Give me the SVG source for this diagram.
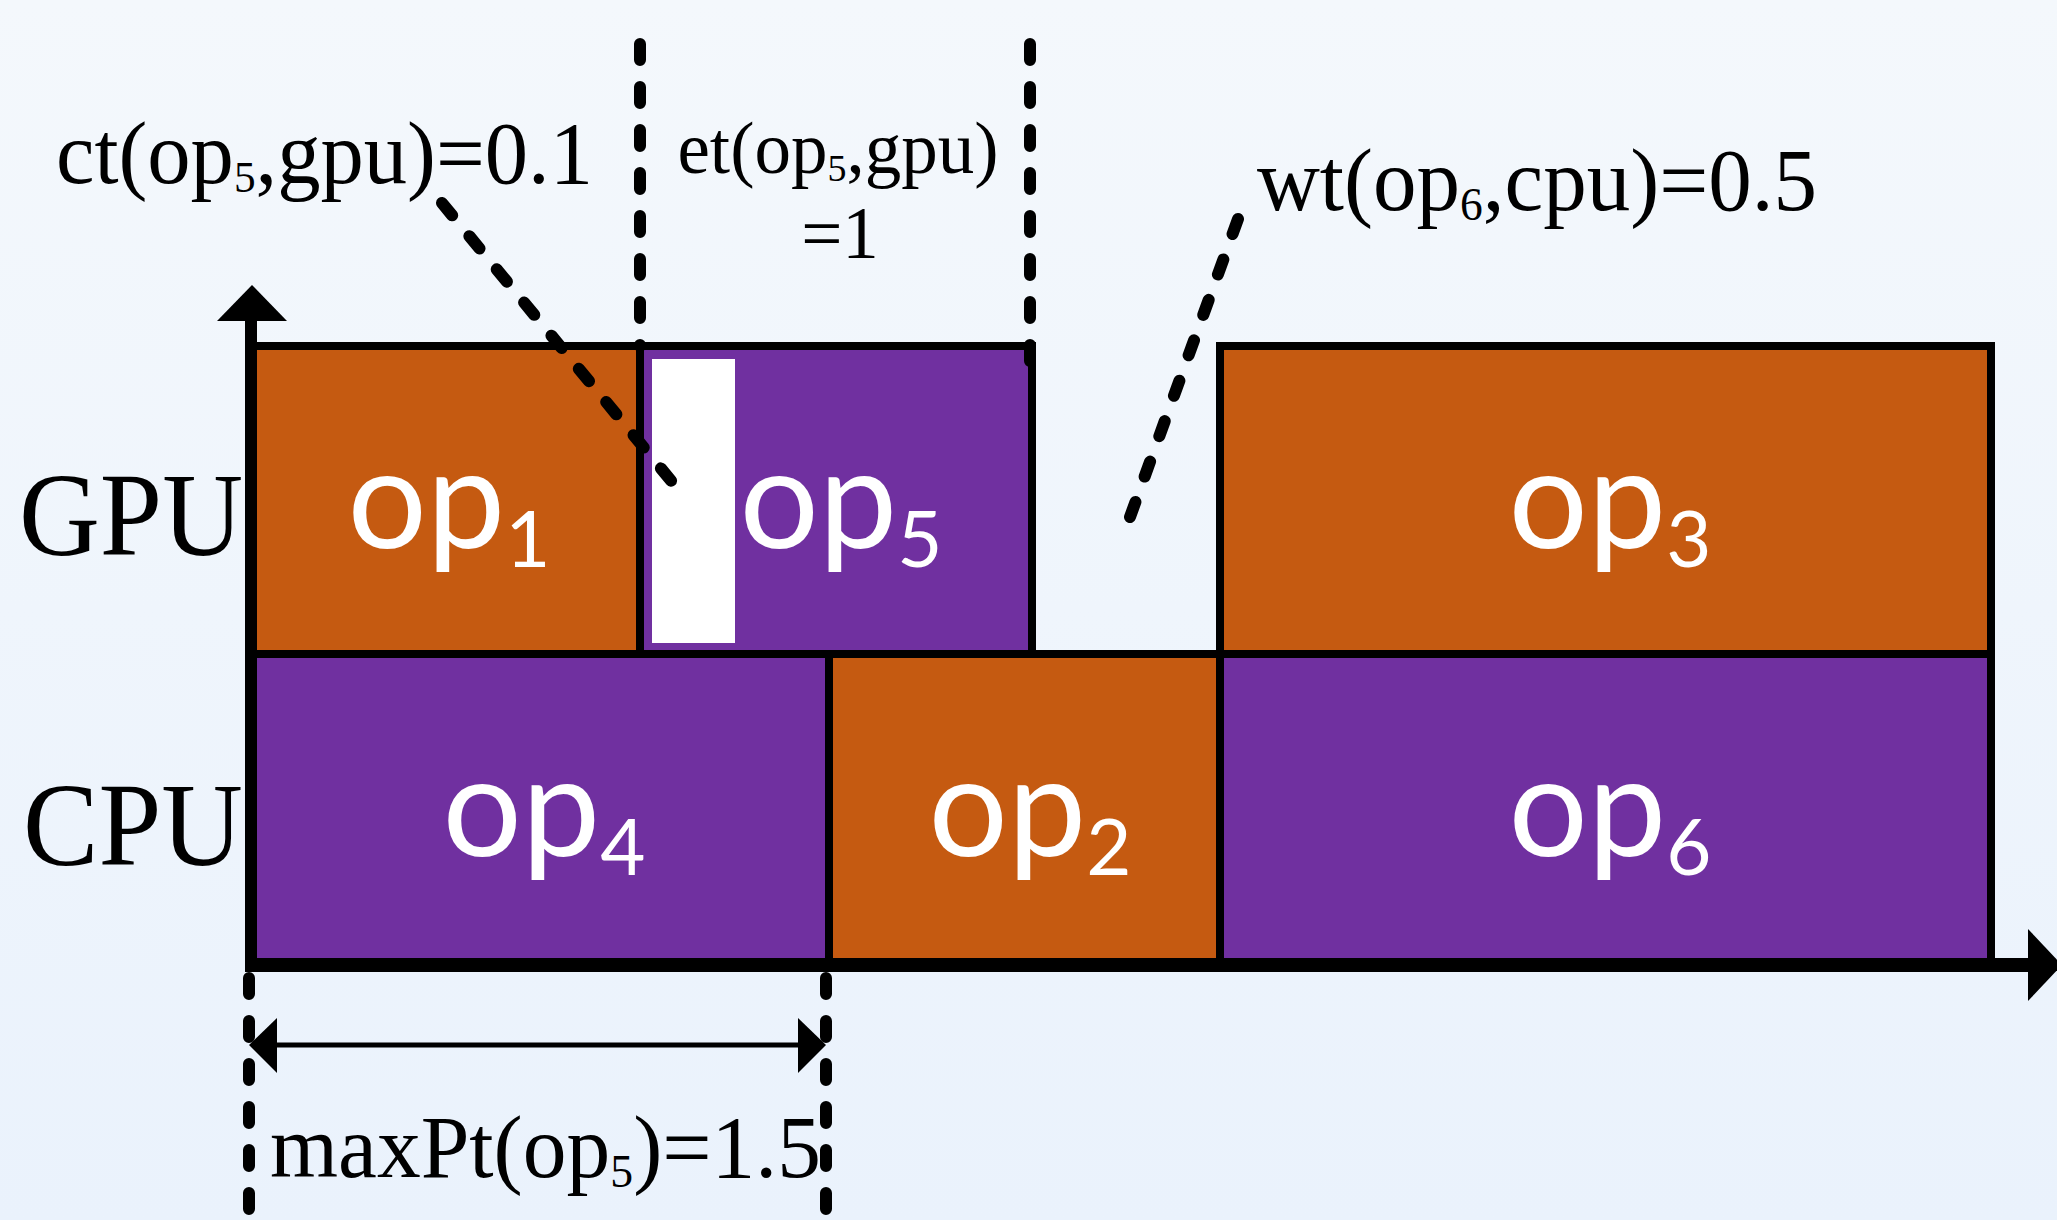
<svg xmlns="http://www.w3.org/2000/svg" width="2057" height="1220" viewBox="0 0 2057 1220">
  <defs>
    <linearGradient id="bg" x1="0" y1="0" x2="0" y2="1">
      <stop offset="0" stop-color="#F4F8FC"/>
      <stop offset="1" stop-color="#EAF2FC"/>
    </linearGradient>
    <style>
      .box { stroke: #000; stroke-width: 8; }
      .orange { fill: #C55A11; }
      .purple { fill: #7030A0; }
      .op { font-family: Lato, "Open Sans", "Liberation Sans", sans-serif; font-size: 140px; fill: #fff; text-anchor: middle; }
      .sub { font-size: 78px; }
      .lbl { font-family: "Liberation Serif", "Times New Roman", serif; fill: #000; }
      .dash { fill: none; stroke: #000; stroke-width: 12; stroke-linecap: round; stroke-dasharray: 16 27; }
      .axis { fill: none; stroke: #000; }
    </style>
  </defs>
  <rect x="0" y="0" width="2057" height="1220" fill="url(#bg)"/>

  <g id="op1">
    <rect class="box orange" x="249" y="346" width="391" height="308"/>
    <text class="op" x="449" y="548">op<tspan class="sub" dy="19">1</tspan></text>
  </g>
  <g id="op5">
    <rect class="box purple" x="640" y="346" width="392" height="308"/>
    <rect x="652" y="359" width="83" height="284" fill="#fff"/>
    <text class="op" x="841" y="548">op<tspan class="sub" dy="19">5</tspan></text>
  </g>
  <g id="op3">
    <rect class="box orange" x="1220" y="346" width="771" height="308"/>
    <text class="op" x="1610" y="548">op<tspan class="sub" dy="19">3</tspan></text>
  </g>
  <g id="op4">
    <rect class="box purple" x="249" y="654" width="580" height="311"/>
    <text class="op" x="544" y="856">op<tspan class="sub" dy="19">4</tspan></text>
  </g>
  <g id="op2">
    <rect class="box orange" x="829" y="654" width="391" height="311"/>
    <text class="op" x="1030" y="856">op<tspan class="sub" dy="19">2</tspan></text>
  </g>
  <g id="op6">
    <rect class="box purple" x="1220" y="654" width="771" height="311"/>
    <text class="op" x="1610" y="856">op<tspan class="sub" dy="19">6</tspan></text>
  </g>

  <g id="axes">
    <line class="axis" x1="251" y1="965" x2="251" y2="318" stroke-width="12"/>
    <polygon points="252,285 217,321 287,321" fill="#000"/>
    <line class="axis" x1="245" y1="965" x2="2030" y2="965" stroke-width="14"/>
    <polygon points="2062,965 2028,929 2028,1001" fill="#000"/>
  </g>

  <g id="row-labels">
    <text class="lbl" x="19" y="555" font-size="118" textLength="224" lengthAdjust="spacingAndGlyphs">GPU</text>
    <text class="lbl" x="23" y="865" font-size="118" textLength="220" lengthAdjust="spacingAndGlyphs">CPU</text>
  </g>

  <g id="connectors">
    <path class="dash" d="M640 44 V346"/>
    <path class="dash" d="M1030 44 V362"/>
    <path class="dash" d="M442 203 L673 483"/>
    <path class="dash" d="M1238 219 L1130 517"/>
    <path class="dash" d="M249 978 V1226"/>
    <path class="dash" d="M826 978 V1226"/>
    <line x1="270" y1="1045" x2="806" y2="1045" stroke="#000" stroke-width="5"/>
    <polygon points="249,1045 277,1018 277,1073" fill="#000"/>
    <polygon points="826,1045 798,1018 798,1073" fill="#000"/>
  </g>

  <g id="annotations">
    <text class="lbl" x="56" y="183" font-size="88" textLength="537" lengthAdjust="spacingAndGlyphs">ct(op<tspan font-size="44" dy="9">5</tspan><tspan dy="-9">,gpu)=0.1</tspan></text>
    <text class="lbl" x="838" y="173" font-size="73" text-anchor="middle">et(op<tspan font-size="38" dy="8">5</tspan><tspan dy="-8">,gpu)</tspan></text>
    <text class="lbl" x="840" y="258" font-size="73" text-anchor="middle">=1</text>
    <text class="lbl" x="1257" y="210" font-size="88" textLength="560" lengthAdjust="spacingAndGlyphs">wt(op<tspan font-size="46" dy="10">6</tspan><tspan dy="-10">,cpu)=0.5</tspan></text>
    <text class="lbl" x="270" y="1177" font-size="88" textLength="551" lengthAdjust="spacingAndGlyphs">maxPt(op<tspan font-size="46" dy="10">5</tspan><tspan dy="-10">)=1.5</tspan></text>
  </g>
</svg>
